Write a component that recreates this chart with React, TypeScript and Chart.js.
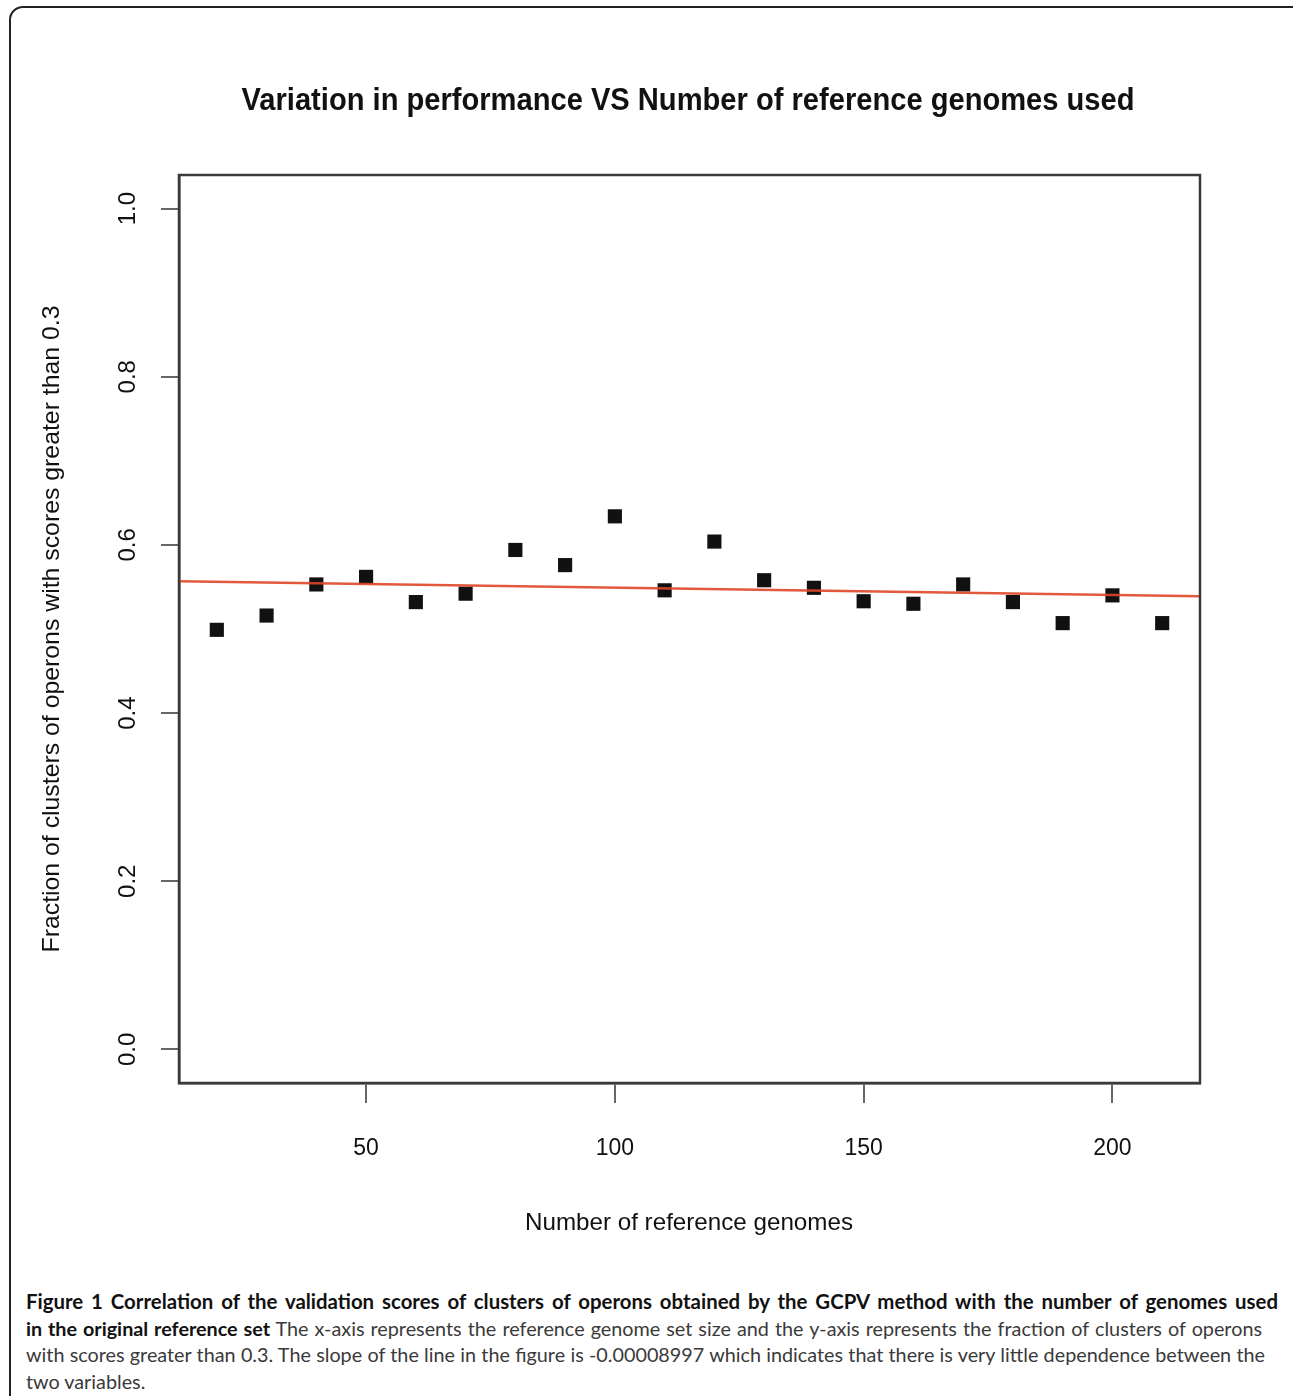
import React, { useEffect, useRef } from "react";
import { Chart, registerables } from "chart.js";

Chart.register(...registerables);

// ---- data ----
const genomeCounts = [20, 30, 40, 50, 60, 70, 80, 90, 100, 110, 120, 130, 140, 150, 160, 170, 180, 190, 200, 210];
const fractions = [0.499, 0.516, 0.553, 0.562, 0.532, 0.542, 0.594, 0.576, 0.634, 0.546, 0.604, 0.558, 0.549, 0.533, 0.530, 0.553, 0.532, 0.507, 0.540, 0.507];
const fitLineX = [12.4, 217.6];
const fitLineY = [0.5568, 0.539];
const xTicks = [50, 100, 150, 200];
const yTicks = [0, 0.2, 0.4, 0.6, 0.8, 1.0];
const xRange = [12.4, 217.6];
const yRange = [-0.04, 1.04];

const chartTitle = "Variation in performance VS Number of reference genomes used";
const xTitle = "Number of reference genomes";
const yTitle = "Fraction of clusters of operons with scores greater than 0.3";

const captionBold1 = "Figure 1 Correlation of the validation scores of clusters of operons obtained by the GCPV method with the number of genomes used";
const captionBold2 = "in the original reference set";
const captionLine2 = " The x-axis represents the reference genome set size and the y-axis represents the fraction of clusters of operons";
const captionLine3 = "with scores greater than 0.3. The slope of the line in the figure is -0.00008997 which indicates that there is very little dependence between the";
const captionLine4 = "two variables.";

const W = 1293;
const CH = 1260;

const textFont = '"Liberation Sans", Arial, Helvetica, sans-serif';

function drawScaledText(ctx: CanvasRenderingContext2D, text: string, x: number, y: number, targetW: number, font: string, rotate = 0) {
  ctx.save();
  ctx.font = font;
  const w = ctx.measureText(text).width;
  ctx.translate(x, y);
  if (rotate) ctx.rotate(rotate);
  ctx.scale(targetW / w, 1);
  ctx.textAlign = "center";
  ctx.textBaseline = "middle";
  ctx.fillStyle = "#111";
  ctx.fillText(text, 0, 0);
  ctx.restore();
}

const decorPlugin = {
  id: "decor",
  afterDraw(chart: any) {
    const ctx: CanvasRenderingContext2D = chart.ctx;
    const a = chart.chartArea;
    // plot box
    ctx.save();
    ctx.strokeStyle = "#3a3a3a";
    ctx.lineWidth = 2.5;
    ctx.strokeRect(a.left, a.top, a.right - a.left, a.bottom - a.top);
    ctx.restore();
    // y tick labels (rotated)
    const ys = chart.scales.y;
    ctx.save();
    ctx.font = `24px ${textFont}`;
    ctx.fillStyle = "#111";
    ctx.textAlign = "center";
    ctx.textBaseline = "middle";
    ys.ticks.forEach((t: any) => {
      const py = ys.getPixelForValue(t.value);
      ctx.save();
      ctx.translate(128, py);
      ctx.rotate(-Math.PI / 2);
      ctx.fillText(Number(t.value).toFixed(1), 0, 0);
      ctx.restore();
    });
    ctx.restore();
    // titles
    drawScaledText(ctx, chartTitle, 688, 101, 893, `bold 31px ${textFont}`);
    drawScaledText(ctx, xTitle, 689, 1223, 328, `24px ${textFont}`);
    drawScaledText(ctx, yTitle, 52, 629, 647, `24px ${textFont}`, -Math.PI / 2);
  },
};

function ChartCanvas() {
  const ref = useRef<HTMLCanvasElement | null>(null);
  useEffect(() => {
    if (!ref.current) return;
    const chart = new Chart(ref.current, {
      type: "scatter",
      data: {
        datasets: [
          {
            type: "line",
            label: "fit",
            data: fitLineX.map((x, i) => ({ x, y: fitLineY[i] })),
            borderColor: "rgba(222,70,40,0.9)",
            borderWidth: 2.5,
            pointRadius: 0,
            fill: false,
          } as any,
          {
            label: "fraction",
            data: genomeCounts.map((x, i) => ({ x, y: fractions[i] })),
            pointStyle: "rect",
            pointRadius: 10,
            pointBackgroundColor: "#111",
            pointBorderWidth: 0,
            backgroundColor: "#111",
          },
        ],
      },
      options: {
        animation: false,
        responsive: false,
        devicePixelRatio: 1,
        layout: { padding: { top: 175, right: 93, left: 0, bottom: 0 } },
        plugins: { legend: { display: false }, tooltip: { enabled: false }, title: { display: false } },
        scales: {
          x: {
            type: "linear",
            min: xRange[0],
            max: xRange[1],
            afterBuildTicks: (s: any) => {
              s.ticks = xTicks.map((v) => ({ value: v }));
            },
            afterFit: (s: any) => {
              s.height = CH - 1083;
            },
            grid: { drawOnChartArea: false, drawTicks: true, tickLength: 20, color: "#666", lineWidth: 2 },
            border: { display: true, color: "#3a3a3a", width: 2.5 },
            ticks: { color: "#111", font: { family: textFont, size: 23 }, padding: 32, maxRotation: 0 },
          },
          y: {
            type: "linear",
            min: yRange[0],
            max: yRange[1],
            afterBuildTicks: (s: any) => {
              s.ticks = yTicks.map((v) => ({ value: v }));
            },
            afterFit: (s: any) => {
              s.width = 179;
            },
            grid: { drawOnChartArea: false, drawTicks: true, tickLength: 18, color: "#666", lineWidth: 2 },
            border: { display: true, color: "#3a3a3a", width: 2.5 },
            ticks: { display: false },
          },
        },
      },
      plugins: [decorPlugin],
    } as any);
    return () => chart.destroy();
  }, []);
  return <canvas ref={ref} width={W} height={CH} style={{ width: W, height: CH, display: "block" }} />;
}

export default function App() {
  const lineStyle: React.CSSProperties = {
    textAlign: "justify",
    textAlignLast: "justify" as any,
    height: 26.7,
    lineHeight: "26.7px",
    whiteSpace: "normal",
  };
  return (
    <div style={{ position: "absolute", left: 0, top: 0, width: W, height: 1396, overflow: "hidden", background: "#fff" }}>
      <div
        style={{
          position: "absolute",
          left: 9,
          top: 6,
          width: 1300,
          height: 1440,
          border: "2px solid #222",
          borderRadius: 14,
          boxSizing: "border-box",
        }}
      />
      <div style={{ position: "absolute", left: 0, top: 0 }}>
        <ChartCanvas />
      </div>
      <div
        style={{
          position: "absolute",
          left: 26,
          top: 1288,
          width: 1252,
          fontFamily: "Lato, 'Open Sans', sans-serif",
          fontSize: 19.8,
          color: "#3a3a3a",
        }}
      >
        <div style={{ ...lineStyle, fontWeight: 700, color: "#111", fontSize: 20.4 }}>{captionBold1}</div>
        <div style={{ ...lineStyle, width: 1236 }}>
          <b style={{ color: "#111" }}>{captionBold2}</b>
          {captionLine2}
        </div>
        <div style={{ ...lineStyle, width: 1239 }}>{captionLine3}</div>
        <div style={{ ...lineStyle, textAlignLast: "left" as any }}>{captionLine4}</div>
      </div>
    </div>
  );
}
